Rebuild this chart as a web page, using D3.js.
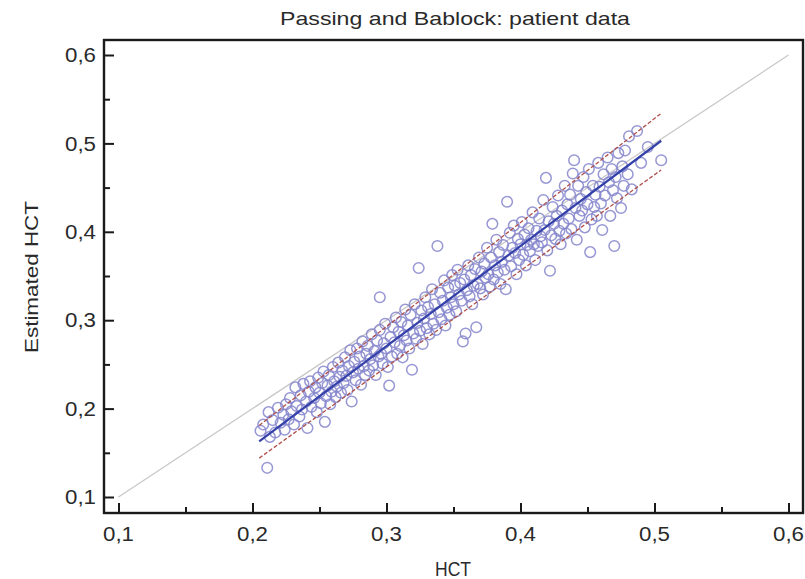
<!DOCTYPE html>
<html><head><meta charset="utf-8">
<script src="https://cdn.jsdelivr.net/npm/d3@7"></script>
<style>body{margin:0;background:#fff;} svg{display:block;font-family:"Liberation Sans",Arial,sans-serif;}</style>
</head><body>
<svg id="c" width="805" height="579"></svg>
<script>
const title = "Passing and Bablock: patient data";
const xLabel = "HCT";
const yLabel = "Estimated HCT";
const majorTicks = [0.1, 0.2, 0.3, 0.4, 0.5, 0.6];
const minorTicks = [0.15, 0.25, 0.35, 0.45, 0.55];
const identityLine = [[0.1, 0.1], [0.6, 0.6]];
const regressionLine = [[0.205, 0.163], [0.505, 0.503]];
const upperCI = [[0.205, 0.181], [0.505, 0.534]];
const lowerCI = [[0.205, 0.144], [0.505, 0.470]];
const hct = [0.206,0.208,0.211,0.212,0.213,0.215,0.217,0.219,0.221,0.223,0.224,0.225,0.227,0.228,0.229,0.231,0.232,0.233,0.235,0.236,0.237,0.238,0.240,0.241,0.242,0.243,0.244,0.246,0.247,0.248,0.249,0.250,0.251,0.252,0.253,0.254,0.255,0.256,0.257,0.258,0.259,0.260,0.261,0.262,0.263,0.264,0.265,0.266,0.267,0.268,0.269,0.270,0.271,0.272,0.273,0.274,0.275,0.276,0.277,0.278,0.279,0.280,0.281,0.282,0.283,0.284,0.285,0.286,0.287,0.288,0.289,0.290,0.291,0.292,0.293,0.294,0.295,0.295,0.296,0.297,0.298,0.299,0.300,0.301,0.302,0.303,0.304,0.305,0.306,0.307,0.308,0.309,0.310,0.311,0.312,0.313,0.314,0.315,0.316,0.317,0.318,0.319,0.320,0.321,0.322,0.323,0.324,0.325,0.326,0.327,0.328,0.329,0.330,0.331,0.332,0.333,0.334,0.335,0.336,0.337,0.338,0.339,0.340,0.341,0.342,0.343,0.344,0.345,0.346,0.347,0.348,0.349,0.350,0.351,0.352,0.353,0.354,0.355,0.356,0.357,0.358,0.359,0.360,0.361,0.362,0.363,0.364,0.365,0.366,0.367,0.368,0.369,0.370,0.371,0.372,0.373,0.374,0.375,0.376,0.377,0.378,0.379,0.380,0.381,0.382,0.383,0.384,0.385,0.386,0.387,0.388,0.389,0.390,0.391,0.392,0.393,0.394,0.395,0.396,0.397,0.398,0.399,0.400,0.401,0.402,0.403,0.404,0.405,0.406,0.407,0.408,0.409,0.410,0.411,0.412,0.413,0.414,0.415,0.416,0.417,0.418,0.419,0.420,0.421,0.422,0.423,0.424,0.425,0.426,0.427,0.428,0.429,0.430,0.431,0.432,0.433,0.434,0.435,0.436,0.437,0.438,0.439,0.440,0.441,0.442,0.443,0.444,0.445,0.446,0.447,0.448,0.449,0.450,0.451,0.452,0.453,0.454,0.455,0.456,0.457,0.458,0.459,0.460,0.461,0.462,0.463,0.465,0.466,0.467,0.468,0.469,0.470,0.471,0.472,0.473,0.475,0.476,0.477,0.478,0.480,0.481,0.483,0.487,0.490,0.495,0.505];
const estHct = [0.175,0.182,0.133,0.196,0.168,0.187,0.173,0.201,0.184,0.193,0.176,0.205,0.188,0.212,0.197,0.182,0.224,0.203,0.191,0.215,0.199,0.228,0.208,0.178,0.219,0.231,0.202,0.212,0.224,0.196,0.235,0.218,0.206,0.229,0.242,0.185,0.214,0.226,0.238,0.205,0.219,0.247,0.231,0.213,0.225,0.252,0.236,0.218,0.243,0.229,0.258,0.237,0.221,0.248,0.266,0.208,0.241,0.253,0.232,0.268,0.245,0.259,0.227,0.276,0.248,0.238,0.262,0.271,0.243,0.256,0.284,0.249,0.265,0.238,0.277,0.259,0.326,0.289,0.262,0.251,0.274,0.296,0.268,0.247,0.226,0.281,0.259,0.292,0.275,0.303,0.262,0.287,0.271,0.298,0.258,0.283,0.312,0.277,0.294,0.268,0.306,0.244,0.285,0.318,0.279,0.297,0.359,0.288,0.311,0.273,0.302,0.326,0.291,0.315,0.284,0.307,0.335,0.296,0.318,0.289,0.384,0.309,0.331,0.301,0.322,0.345,0.294,0.314,0.337,0.306,0.326,0.351,0.318,0.339,0.310,0.357,0.329,0.342,0.322,0.276,0.346,0.285,0.334,0.362,0.327,0.351,0.318,0.339,0.358,0.292,0.341,0.371,0.336,0.355,0.329,0.364,0.348,0.382,0.352,0.338,0.371,0.409,0.346,0.362,0.391,0.354,0.377,0.341,0.366,0.385,0.357,0.335,0.434,0.373,0.399,0.361,0.382,0.407,0.376,0.352,0.392,0.368,0.386,0.411,0.374,0.397,0.362,0.385,0.404,0.378,0.391,0.422,0.386,0.368,0.401,0.384,0.415,0.395,0.388,0.436,0.402,0.461,0.379,0.412,0.356,0.396,0.428,0.409,0.392,0.418,0.441,0.401,0.386,0.424,0.409,0.452,0.398,0.431,0.415,0.442,0.403,0.466,0.481,0.427,0.391,0.452,0.418,0.437,0.424,0.462,0.405,0.445,0.431,0.471,0.377,0.414,0.452,0.428,0.442,0.418,0.478,0.451,0.432,0.402,0.465,0.441,0.484,0.456,0.418,0.471,0.447,0.384,0.462,0.438,0.489,0.427,0.474,0.452,0.492,0.465,0.508,0.448,0.514,0.478,0.496,0.481];

const svg = d3.select("#c");
const L = 104, R = 803, T = 40, B = 513;
const x = d3.scaleLinear().domain([0.1, 0.6]).range([118.5, 788.5]);
const y = d3.scaleLinear().domain([0.1, 0.6]).range([497, 55]);
const fmt = d => d3.format(".1f")(d).replace(".", ",");

const plot = svg.append("g");
plot.append("defs").append("clipPath").attr("id","clip")
  .append("rect").attr("x",L).attr("y",T).attr("width",R-L).attr("height",B-T);
const inner = plot.append("g").attr("clip-path","url(#clip)");

const line = d3.line().x(d => x(d[0])).y(d => y(d[1]));
inner.append("path").attr("d", line(identityLine)).attr("fill","none").attr("stroke","#c8c8c8").attr("stroke-width",1.3);

inner.selectAll("circle").data(hct.map((v,i)=>[v, estHct[i]])).join("circle")
  .attr("cx", d => x(d[0])).attr("cy", d => y(d[1])).attr("r", 5.3)
  .attr("fill","none").attr("stroke","#8585cc").attr("stroke-width",1.5).attr("stroke-opacity",0.85);

inner.append("path").attr("d", line(upperCI)).attr("fill","none").attr("stroke","#b0504a").attr("stroke-width",1.3).attr("stroke-dasharray","4,2");
inner.append("path").attr("d", line(lowerCI)).attr("fill","none").attr("stroke","#b0504a").attr("stroke-width",1.3).attr("stroke-dasharray","4,2");
inner.append("path").attr("d", line(regressionLine)).attr("fill","none").attr("stroke","#3441a8").attr("stroke-width",2.2);

// frame
svg.append("rect").attr("x",L).attr("y",T).attr("width",R-L).attr("height",B-T)
  .attr("fill","none").attr("stroke","#1a1a1a").attr("stroke-width",2.4);

// x ticks (inside, pointing up)
const xa = svg.append("g").attr("transform",`translate(0,${B})`);
xa.call(d3.axisTop(x).tickValues(majorTicks).tickSize(10).tickFormat(""));
xa.append("g").call(d3.axisTop(x).tickValues(minorTicks).tickSize(6).tickFormat(""));
xa.selectAll(".domain").remove();
xa.selectAll("line").attr("stroke","#1a1a1a").attr("stroke-width",2);
svg.append("g").selectAll("text").data(majorTicks).join("text")
  .attr("x", d => x(d)).attr("y", 541).attr("text-anchor","middle")
  .attr("font-size",20).attr("fill","#2a2a2a")
  .attr("textLength",31).attr("lengthAdjust","spacingAndGlyphs").text(fmt);

// y ticks (inside, pointing right)
const ya = svg.append("g").attr("transform",`translate(${L},0)`);
ya.call(d3.axisRight(y).tickValues(majorTicks).tickSize(10).tickFormat(""));
ya.append("g").call(d3.axisRight(y).tickValues(minorTicks).tickSize(6).tickFormat(""));
ya.selectAll(".domain").remove();
ya.selectAll("line").attr("stroke","#1a1a1a").attr("stroke-width",2);
svg.append("g").selectAll("text").data(majorTicks).join("text")
  .attr("x", 96).attr("y", d => y(d)).attr("dy","0.36em").attr("text-anchor","end")
  .attr("font-size",20).attr("fill","#2a2a2a")
  .attr("textLength",31).attr("lengthAdjust","spacingAndGlyphs").text(fmt);

svg.append("text").attr("x",455).attr("y",25).attr("text-anchor","middle").attr("font-size",19).attr("fill","#2a2a2a")
  .attr("textLength",350).attr("lengthAdjust","spacingAndGlyphs").text(title);
svg.append("text").attr("x",453).attr("y",576).attr("text-anchor","middle").attr("font-size",20).attr("fill","#2a2a2a")
  .attr("textLength",36).attr("lengthAdjust","spacingAndGlyphs").text(xLabel);
svg.append("text").attr("transform","translate(38,277) rotate(-90)").attr("text-anchor","middle").attr("font-size",19).attr("fill","#2a2a2a")
  .attr("textLength",152).attr("lengthAdjust","spacingAndGlyphs").text(yLabel);
</script>
</body></html>
